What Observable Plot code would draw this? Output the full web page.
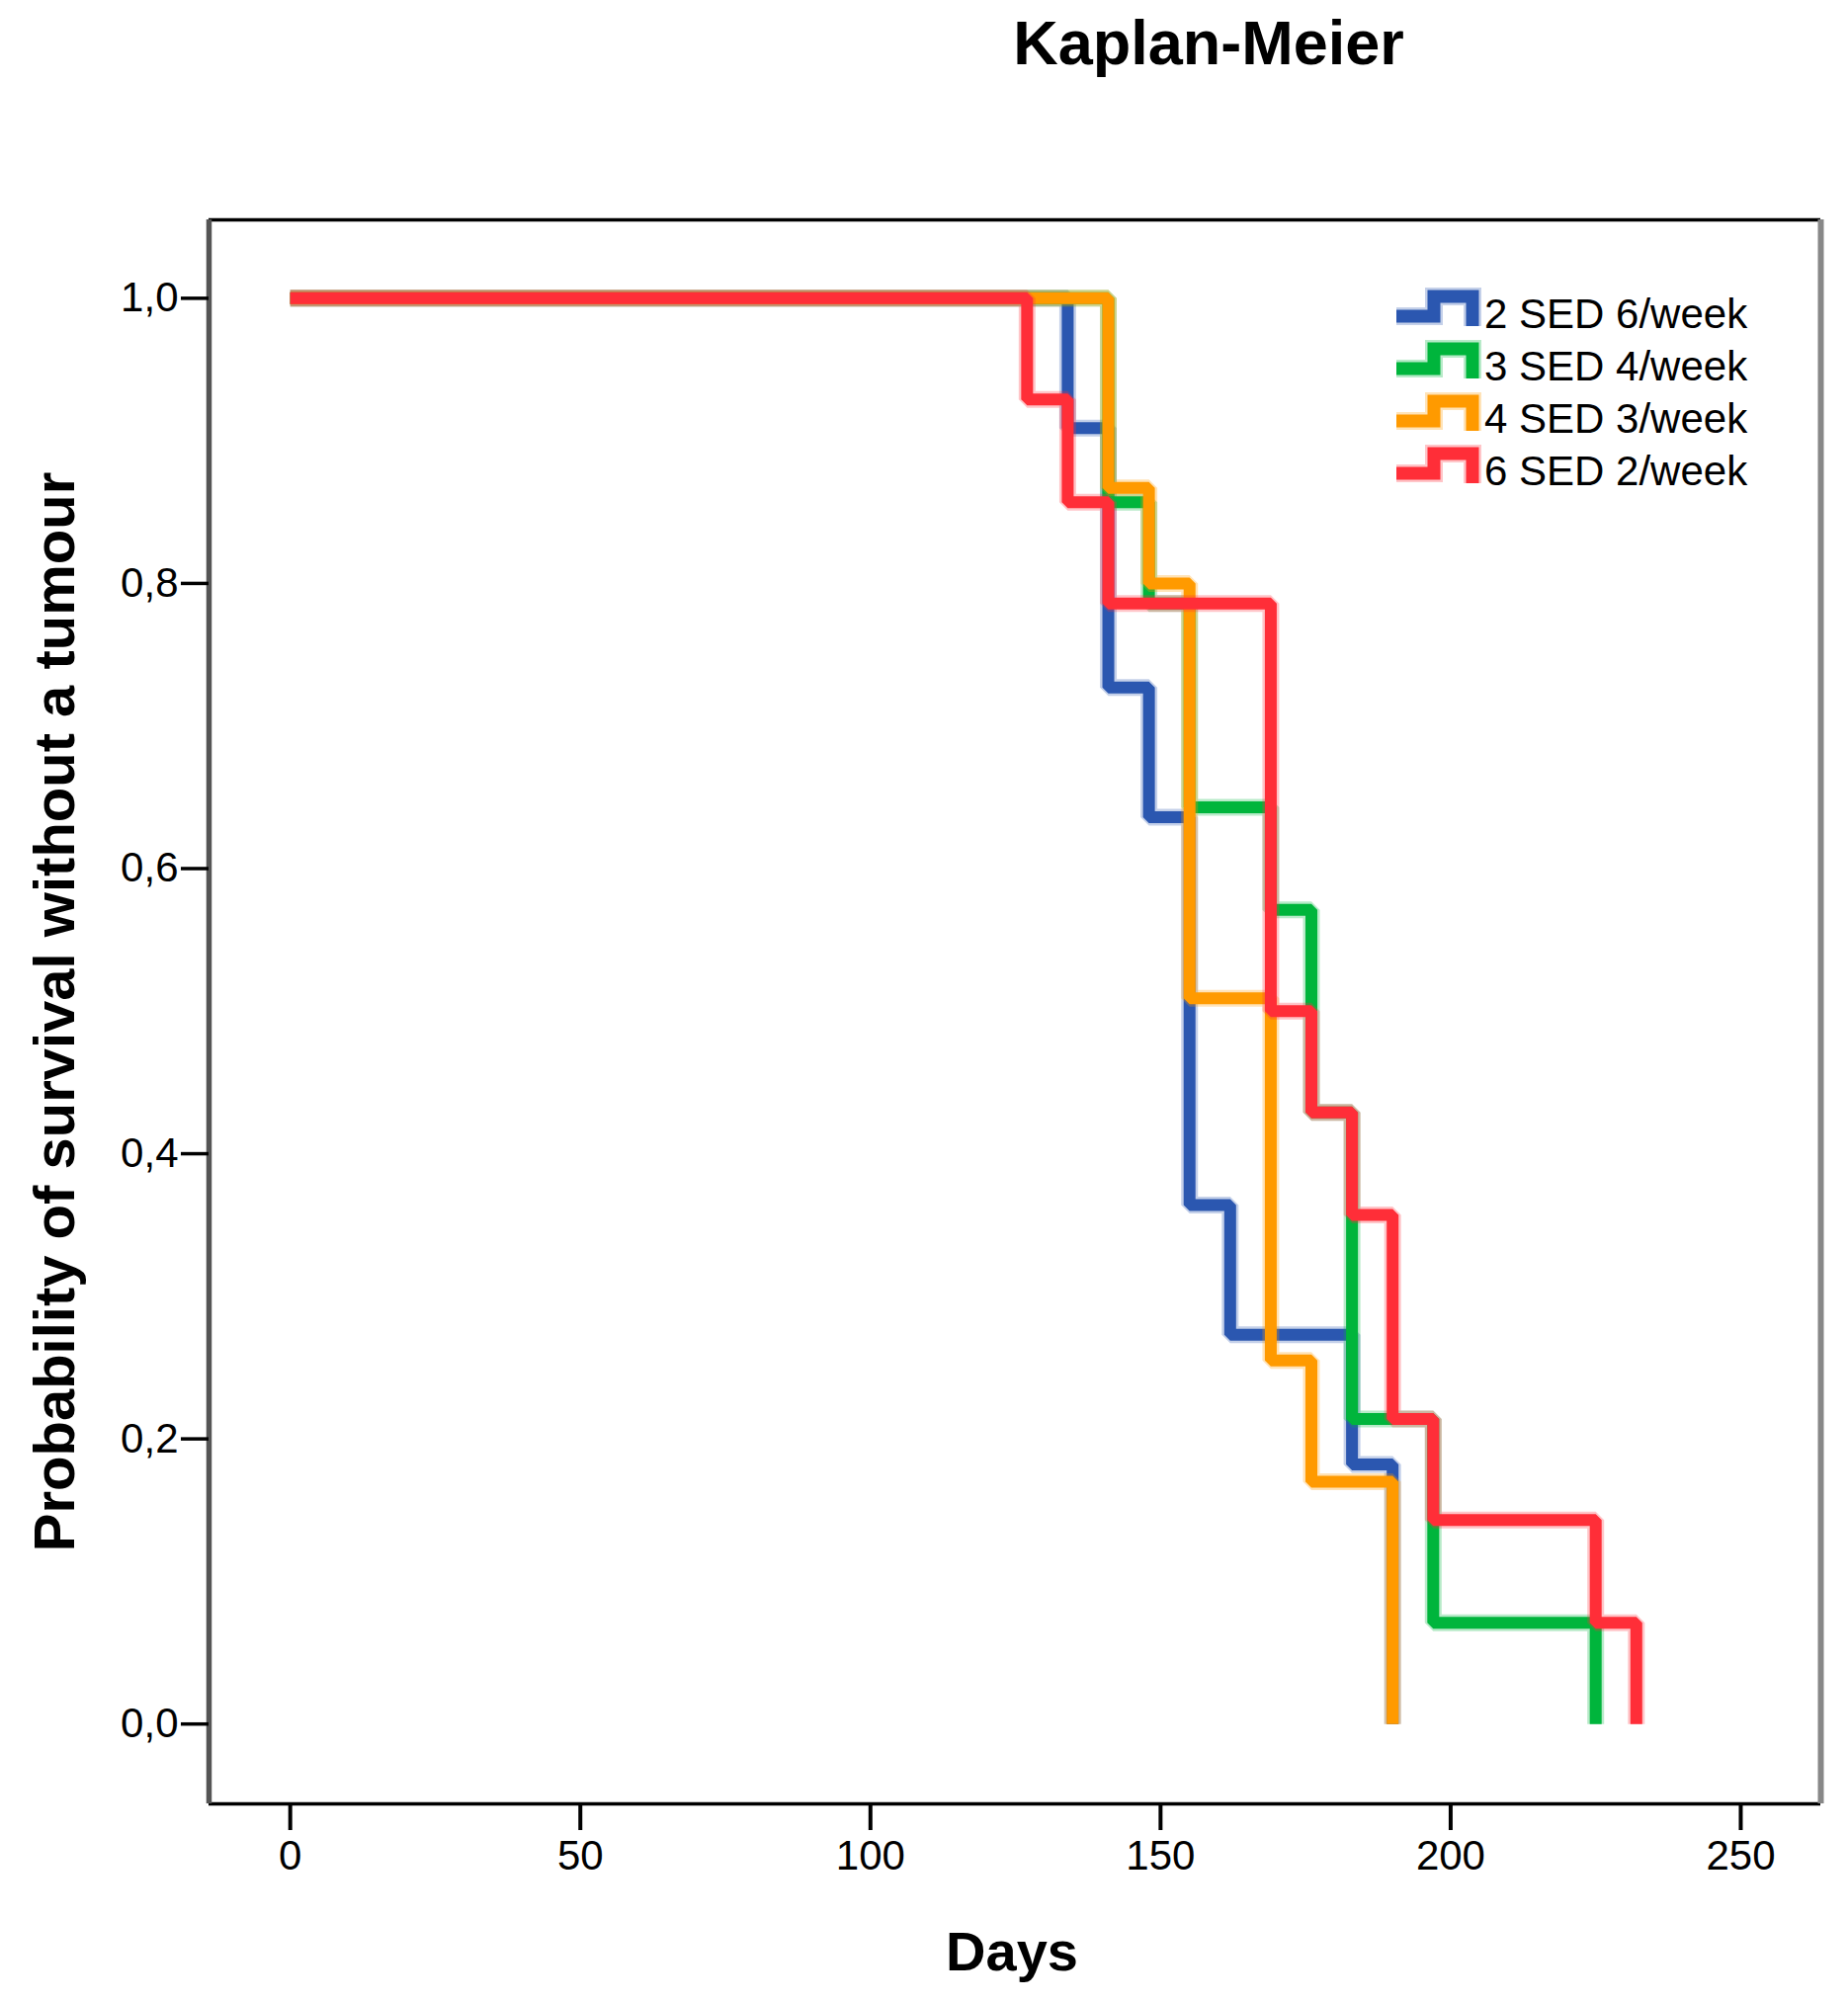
<!DOCTYPE html>
<html>
<head>
<meta charset="utf-8">
<script src="https://cdn.jsdelivr.net/npm/d3@7"></script>
<script src="https://cdn.jsdelivr.net/npm/@observablehq/plot@0.6"></script>
<style>
  body { margin: 0; background: #fff; font-family: "Liberation Sans", Arial, sans-serif; }
  #wrap { position: relative; width: 1870px; height: 2026px; overflow: hidden; }
  #title { position: absolute; left: 1223px; top: 12px; transform: translateX(-50%);
           font: bold 63px/63px "Liberation Sans", Arial, sans-serif; white-space: nowrap; color: #000; }
  #chart { position: absolute; left: 0; top: 100px; }
  #legend { position: absolute; left: 0; top: 0; pointer-events: none; }
</style>
</head>
<body>
<div id="wrap">
  <div id="title">Kaplan-Meier</div>
  <div id="chart"></div>
  <svg id="legend" width="1870" height="600"></svg>
</div>
<script>
// ---- data ----
const seriesNames  = ["2 SED 6/week", "3 SED 4/week", "4 SED 3/week", "6 SED 2/week"];
const seriesColors = ["#2b57b0", "#00b53c", "#ff9a00", "#ff2e38"];

const blueDays   = [0, 134, 141, 148, 155, 162, 183, 190];
const blueSurv   = [1, 0.909, 0.727, 0.636, 0.364, 0.273, 0.182, 0];
const greenDays  = [0, 141, 148, 155, 169, 176, 183, 197, 225];
const greenSurv  = [1, 0.857, 0.786, 0.643, 0.571, 0.429, 0.214, 0.071, 0];
const orangeDays = [0, 141, 148, 155, 169, 176, 190];
const orangeSurv = [1, 0.867, 0.8, 0.509, 0.255, 0.170, 0];
const redDays    = [0, 127, 134, 141, 169, 176, 183, 190, 197, 225, 232];
const redSurv    = [1, 0.929, 0.857, 0.786, 0.5, 0.429, 0.357, 0.214, 0.143, 0.071, 0];

const xTicks = [0, 50, 100, 150, 200, 250];
const yTicks = [0, 0.2, 0.4, 0.6, 0.8, 1.0];
const xDomain = [-14, 263.8];
const yDomain = [-0.056, 1.055];

const xLabel = "Days";
const yLabel = "Probability of survival without a tumour";

// ---- build tables ----
const allDays = [blueDays, greenDays, orangeDays, redDays];
const allSurv = [blueSurv, greenSurv, orangeSurv, redSurv];
const tables = seriesNames.map((name, i) =>
  allDays[i].map((d, j) => ({group: name, day: d, surv: allSurv[i][j]})));

const FONT = "'Liberation Sans', Arial, sans-serif";

const lineMarks = [];
tables.forEach((t) => {
  lineMarks.push(Plot.line(t, {x: "day", y: "surv", stroke: "group", curve: "step-after",
    strokeWidth: 17, strokeOpacity: 0.28, strokeLinejoin: "miter", strokeLinecap: "butt"}));
  lineMarks.push(Plot.line(t, {x: "day", y: "surv", stroke: "group", curve: "step-after",
    strokeWidth: 12, strokeLinejoin: "miter", strokeLinecap: "butt"}));
});

const chart = Plot.plot({
  width: 1870,
  height: 1926,
  marginLeft: 211,
  marginRight: 28,
  marginTop: 122,
  marginBottom: 201,
  style: {fontFamily: FONT, background: "white", color: "black", overflow: "visible"},
  x: {domain: xDomain},
  y: {domain: yDomain},
  color: {domain: seriesNames, range: seriesColors},
  marks: [
    Plot.ruleY(yDomain, {stroke: "#000", strokeWidth: 3.5}),
    Plot.ruleX([xDomain[0]], {stroke: "#555", strokeWidth: 5.5}),
    Plot.ruleX([xDomain[1]], {stroke: "#888", strokeWidth: 6}),
    Plot.axisX({ticks: xTicks, tickSize: 27, tickPadding: 10, fontSize: 42, strokeWidth: 4,
      label: null, anchor: "bottom", tickFormat: d => String(d)}),
    Plot.axisY({ticks: yTicks, tickSize: 28, tickPadding: 3, fontSize: 42, strokeWidth: 3.5,
      label: null, anchor: "left", tickFormat: d => d.toFixed(1).replace(".", ",")}),
    ...lineMarks,
    Plot.text([xLabel], {text: d => d, frameAnchor: "bottom", lineAnchor: "middle",
      dx: -3, dy: 151, fontSize: 56, fontWeight: "bold", fill: "black"}),
    Plot.text([yLabel], {text: d => d, frameAnchor: "left", lineAnchor: "middle", textAnchor: "middle",
      rotate: -90, dx: -155, dy: 0, fontSize: 58, fontWeight: "bold", fill: "black"})
  ]
});
document.getElementById("chart").appendChild(chart);

// ---- legend (step symbols + labels) ----
const lg = d3.select("#legend");
seriesNames.forEach((name, i) => {
  const by = 332 + i * 53;
  const d = `M1413,${by - 12}H1451V${by - 32}H1490V${by - 2}`;
  lg.append("path").attr("d", d).attr("fill", "none").attr("stroke", seriesColors[i])
    .attr("stroke-width", 18).attr("stroke-opacity", 0.28).attr("stroke-linejoin", "miter");
  lg.append("path").attr("d", d).attr("fill", "none").attr("stroke", seriesColors[i])
    .attr("stroke-width", 13).attr("stroke-linejoin", "miter");
  lg.append("text").attr("x", 1502).attr("y", by).attr("font-size", 42)
    .attr("font-family", FONT).attr("fill", "#000").text(name);
});
</script>
</body>
</html>
